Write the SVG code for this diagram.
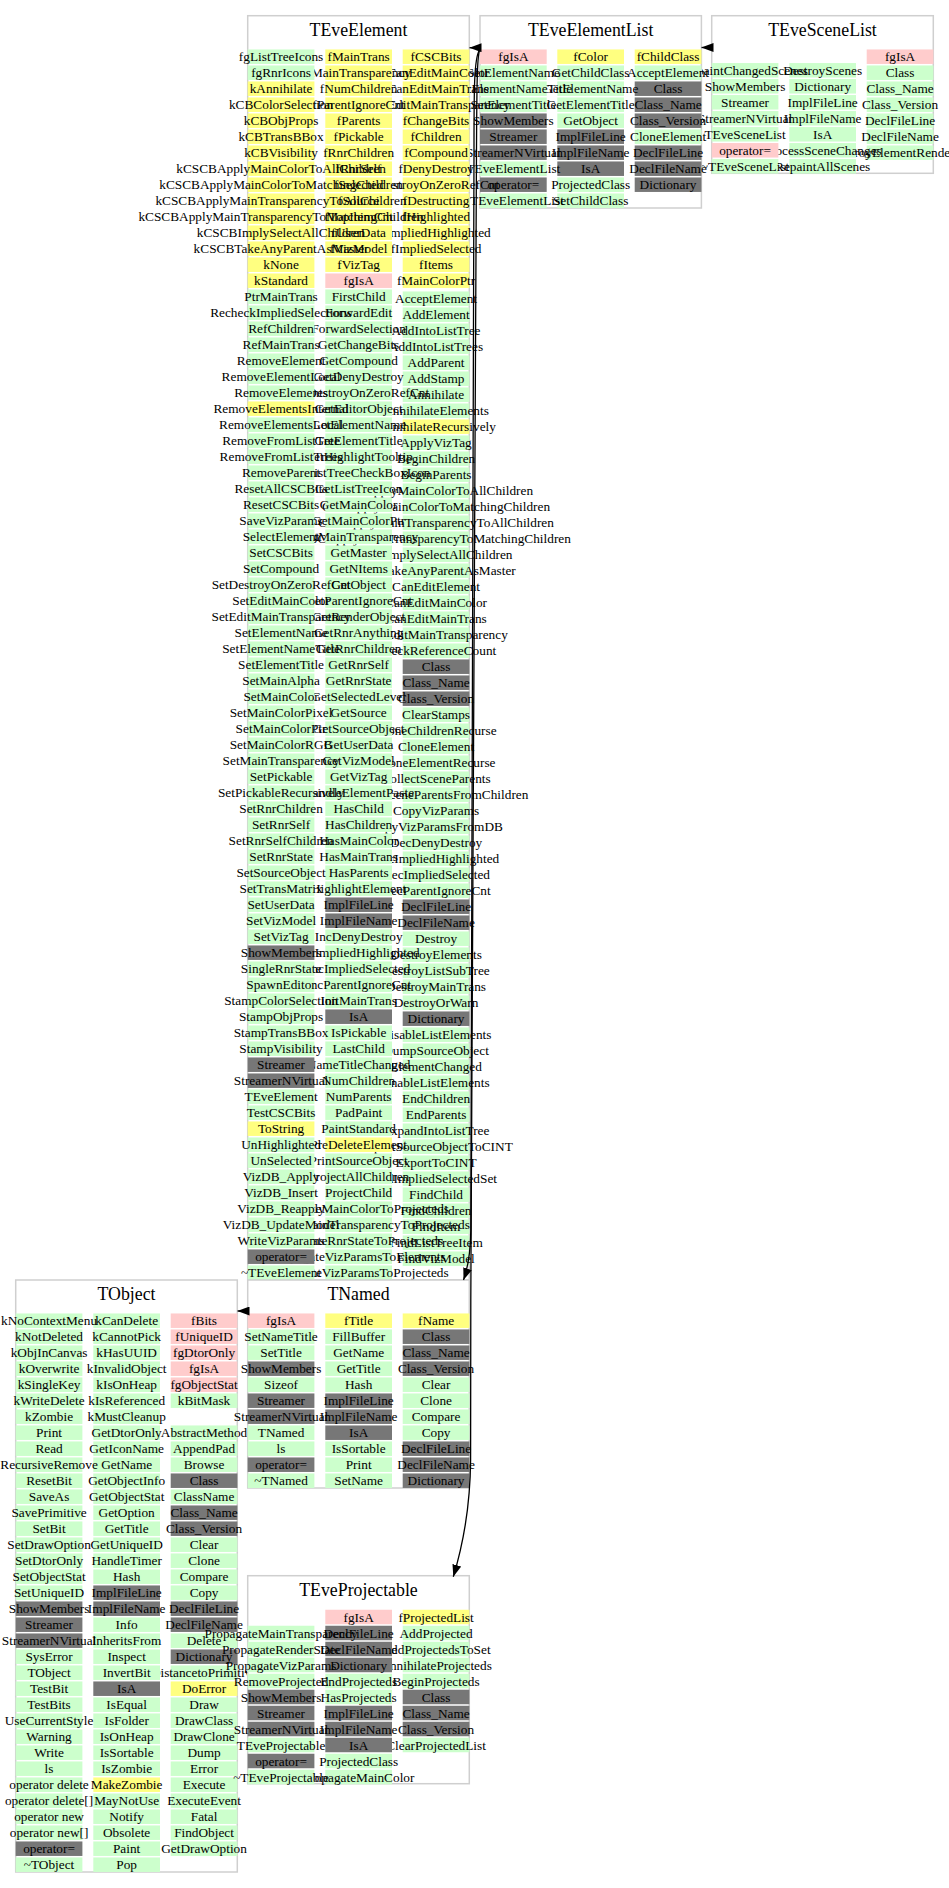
<svg xmlns="http://www.w3.org/2000/svg" width="949" height="1888" viewBox="0 0 949 1888">
<style>
text{font-family:"Liberation Serif","Times New Roman",serif;font-size:13.3px;text-anchor:middle;fill:#000}
.h{font-size:17.8px}
.bx{fill:#fff;stroke:#cfcfcf;stroke-width:1.5}
.g{fill:#ccffcc}.y{fill:#ffff80}.p{fill:#ffcccc}.d{fill:#777777}
</style>
<defs>
<marker id="ah" markerWidth="12" markerHeight="9" refX="12" refY="4.5" orient="auto" markerUnits="userSpaceOnUse"><path d="M0,0L12,4.5L0,9z" fill="#000" stroke="none"/></marker>
</defs>
<rect width="949" height="1888" fill="#fff"/>

<g id="TEveSceneList">
<rect class="bx" x="711.7" y="15.7" width="221.6" height="157.6"/>
<text class="h" x="822.5" y="36">TEveSceneList</text>
<g transform="translate(866.7,49.45)">
<rect y="0" width="66.7" height="14.5" class="p"/><rect y="16" width="66.7" height="14.5" class="g"/><rect y="32" width="66.7" height="14.5" class="g"/><rect y="48" width="66.7" height="14.5" class="g"/><rect y="64" width="66.7" height="14.5" class="g"/><rect y="80" width="66.7" height="14.5" class="g"/><rect y="96" width="66.7" height="14.5" class="g"/>
</g>
<g transform="translate(900.05,61.3)">
<text y="0">fgIsA</text><text y="16">Class</text><text y="32">Class_Name</text><text y="48">Class_Version</text><text y="64">DeclFileLine</text><text y="80">DeclFileName</text><text y="96">DestroyElementRenderers</text>
</g>
<g transform="translate(789.3,63.05)">
<rect y="0" width="66.7" height="14.5" class="g"/><rect y="16" width="66.7" height="14.5" class="g"/><rect y="32" width="66.7" height="14.5" class="g"/><rect y="48" width="66.7" height="14.5" class="g"/><rect y="64" width="66.7" height="14.5" class="g"/><rect y="80" width="66.7" height="14.5" class="g"/><rect y="96" width="66.7" height="14.5" class="g"/>
</g>
<g transform="translate(822.65,74.9)">
<text y="0">DestroyScenes</text><text y="16">Dictionary</text><text y="32">ImplFileLine</text><text y="48">ImplFileName</text><text y="64">IsA</text><text y="80">ProcessSceneChanges</text><text y="96">RepaintAllScenes</text>
</g>
<g transform="translate(711.7,63.05)">
<rect y="0" width="66.7" height="14.5" class="g"/><rect y="16" width="66.7" height="14.5" class="g"/><rect y="32" width="66.7" height="14.5" class="g"/><rect y="48" width="66.7" height="14.5" class="g"/><rect y="64" width="66.7" height="14.5" class="g"/><rect y="80" width="66.7" height="14.5" class="p"/><rect y="96" width="66.7" height="14.5" class="g"/>
</g>
<g transform="translate(745.05,74.9)">
<text y="0">RepaintChangedScenes</text><text y="16">ShowMembers</text><text y="32">Streamer</text><text y="48">StreamerNVirtual</text><text y="64">TEveSceneList</text><text y="80">operator=</text><text y="96">~TEveSceneList</text>
</g>
</g>

<g id="TEveElementList">
<rect class="bx" x="480" y="15.7" width="221.4" height="192.3"/>
<text class="h" x="590.7" y="36">TEveElementList</text>
<g transform="translate(634.7,49.45)">
<rect y="0" width="66.7" height="14.5" class="y"/><rect y="16" width="66.7" height="14.5" class="g"/><rect y="32" width="66.7" height="14.5" class="d"/><rect y="48" width="66.7" height="14.5" class="d"/><rect y="64" width="66.7" height="14.5" class="d"/><rect y="80" width="66.7" height="14.5" class="g"/><rect y="96" width="66.7" height="14.5" class="d"/><rect y="112" width="66.7" height="14.5" class="d"/><rect y="128" width="66.7" height="14.5" class="d"/>
</g>
<g transform="translate(668.05,61.3)">
<text y="0">fChildClass</text><text y="16">AcceptElement</text><text y="32">Class</text><text y="48">Class_Name</text><text y="64">Class_Version</text><text y="80">CloneElement</text><text y="96">DeclFileLine</text><text y="112">DeclFileName</text><text y="128">Dictionary</text>
</g>
<g transform="translate(557.3,49.45)">
<rect y="0" width="66.7" height="14.5" class="y"/><rect y="16" width="66.7" height="14.5" class="g"/><rect y="32" width="66.7" height="14.5" class="g"/><rect y="48" width="66.7" height="14.5" class="g"/><rect y="64" width="66.7" height="14.5" class="g"/><rect y="80" width="66.7" height="14.5" class="d"/><rect y="96" width="66.7" height="14.5" class="d"/><rect y="112" width="66.7" height="14.5" class="d"/><rect y="128" width="66.7" height="14.5" class="g"/><rect y="144" width="66.7" height="14.5" class="g"/>
</g>
<g transform="translate(590.65,61.3)">
<text y="0">fColor</text><text y="16">GetChildClass</text><text y="32">GetElementName</text><text y="48">GetElementTitle</text><text y="64">GetObject</text><text y="80">ImplFileLine</text><text y="96">ImplFileName</text><text y="112">IsA</text><text y="128">ProjectedClass</text><text y="144">SetChildClass</text>
</g>
<g transform="translate(480,49.45)">
<rect y="0" width="66.7" height="14.5" class="p"/><rect y="16" width="66.7" height="14.5" class="g"/><rect y="32" width="66.7" height="14.5" class="g"/><rect y="48" width="66.7" height="14.5" class="g"/><rect y="64" width="66.7" height="14.5" class="d"/><rect y="80" width="66.7" height="14.5" class="d"/><rect y="96" width="66.7" height="14.5" class="d"/><rect y="112" width="66.7" height="14.5" class="g"/><rect y="128" width="66.7" height="14.5" class="d"/><rect y="144" width="66.7" height="14.5" class="g"/>
</g>
<g transform="translate(513.35,61.3)">
<text y="0">fgIsA</text><text y="16">SetElementName</text><text y="32">SetElementNameTitle</text><text y="48">SetElementTitle</text><text y="64">ShowMembers</text><text y="80">Streamer</text><text y="96">StreamerNVirtual</text><text y="112">TEveElementList</text><text y="128">operator=</text><text y="144">~TEveElementList</text>
</g>
</g>

<g id="TEveElement">
<rect class="bx" x="247.7" y="15.7" width="221.6" height="1264.3"/>
<text class="h" x="358.5" y="36">TEveElement</text>
<g transform="translate(402.7,49.45)">
<rect y="0" width="66.7" height="14.5" class="y"/><rect y="16" width="66.7" height="14.5" class="y"/><rect y="32" width="66.7" height="14.5" class="y"/><rect y="48" width="66.7" height="14.5" class="y"/><rect y="64" width="66.7" height="14.5" class="y"/><rect y="80" width="66.7" height="14.5" class="y"/><rect y="96" width="66.7" height="14.5" class="y"/><rect y="112" width="66.7" height="14.5" class="y"/><rect y="128" width="66.7" height="14.5" class="y"/><rect y="144" width="66.7" height="14.5" class="y"/><rect y="160" width="66.7" height="14.5" class="y"/><rect y="176" width="66.7" height="14.5" class="y"/><rect y="192" width="66.7" height="14.5" class="y"/><rect y="208" width="66.7" height="14.5" class="y"/><rect y="224" width="66.7" height="14.5" class="y"/>
</g>
<g transform="translate(436.05,61.3)">
<text y="0">fCSCBits</text><text y="16">fCanEditMainColor</text><text y="32">fCanEditMainTrans</text><text y="48">fCanEditMainTransparency</text><text y="64">fChangeBits</text><text y="80">fChildren</text><text y="96">fCompound</text><text y="112">fDenyDestroy</text><text y="128">fDestroyOnZeroRefCnt</text><text y="144">fDestructing</text><text y="160">fHighlighted</text><text y="176">fImpliedHighlighted</text><text y="192">fImpliedSelected</text><text y="208">fItems</text><text y="224">fMainColorPtr</text>
</g>
<g transform="translate(402.7,51.45)">
<rect y="240" width="66.7" height="14.5" class="g"/><rect y="256" width="66.7" height="14.5" class="g"/><rect y="272" width="66.7" height="14.5" class="g"/><rect y="288" width="66.7" height="14.5" class="g"/><rect y="304" width="66.7" height="14.5" class="g"/><rect y="320" width="66.7" height="14.5" class="g"/><rect y="336" width="66.7" height="14.5" class="g"/><rect y="352" width="66.7" height="14.5" class="g"/><rect y="368" width="66.7" height="14.5" class="y"/><rect y="384" width="66.7" height="14.5" class="g"/><rect y="400" width="66.7" height="14.5" class="g"/><rect y="416" width="66.7" height="14.5" class="g"/><rect y="432" width="66.7" height="14.5" class="g"/><rect y="448" width="66.7" height="14.5" class="g"/><rect y="464" width="66.7" height="14.5" class="g"/><rect y="480" width="66.7" height="14.5" class="g"/><rect y="496" width="66.7" height="14.5" class="g"/><rect y="512" width="66.7" height="14.5" class="g"/><rect y="528" width="66.7" height="14.5" class="g"/><rect y="544" width="66.7" height="14.5" class="g"/><rect y="560" width="66.7" height="14.5" class="g"/><rect y="576" width="66.7" height="14.5" class="g"/><rect y="592" width="66.7" height="14.5" class="g"/><rect y="608" width="66.7" height="14.5" class="d"/><rect y="624" width="66.7" height="14.5" class="d"/><rect y="640" width="66.7" height="14.5" class="d"/><rect y="656" width="66.7" height="14.5" class="g"/><rect y="672" width="66.7" height="14.5" class="g"/><rect y="688" width="66.7" height="14.5" class="g"/><rect y="704" width="66.7" height="14.5" class="g"/><rect y="720" width="66.7" height="14.5" class="g"/><rect y="736" width="66.7" height="14.5" class="g"/><rect y="752" width="66.7" height="14.5" class="g"/><rect y="768" width="66.7" height="14.5" class="g"/><rect y="784" width="66.7" height="14.5" class="g"/><rect y="800" width="66.7" height="14.5" class="g"/><rect y="816" width="66.7" height="14.5" class="g"/><rect y="832" width="66.7" height="14.5" class="g"/><rect y="848" width="66.7" height="14.5" class="d"/><rect y="864" width="66.7" height="14.5" class="d"/><rect y="880" width="66.7" height="14.5" class="g"/><rect y="896" width="66.7" height="14.5" class="g"/><rect y="912" width="66.7" height="14.5" class="g"/><rect y="928" width="66.7" height="14.5" class="g"/><rect y="944" width="66.7" height="14.5" class="g"/><rect y="960" width="66.7" height="14.5" class="d"/><rect y="976" width="66.7" height="14.5" class="g"/><rect y="992" width="66.7" height="14.5" class="g"/><rect y="1008" width="66.7" height="14.5" class="g"/><rect y="1024" width="66.7" height="14.5" class="g"/><rect y="1040" width="66.7" height="14.5" class="g"/><rect y="1056" width="66.7" height="14.5" class="g"/><rect y="1072" width="66.7" height="14.5" class="g"/><rect y="1088" width="66.7" height="14.5" class="g"/><rect y="1104" width="66.7" height="14.5" class="g"/><rect y="1120" width="66.7" height="14.5" class="g"/><rect y="1136" width="66.7" height="14.5" class="g"/><rect y="1152" width="66.7" height="14.5" class="g"/><rect y="1168" width="66.7" height="14.5" class="g"/><rect y="1184" width="66.7" height="14.5" class="g"/><rect y="1200" width="66.7" height="14.5" class="g"/>
</g>
<g transform="translate(436.05,63.3)">
<text y="240">AcceptElement</text><text y="256">AddElement</text><text y="272">AddIntoListTree</text><text y="288">AddIntoListTrees</text><text y="304">AddParent</text><text y="320">AddStamp</text><text y="336">Annihilate</text><text y="352">AnnihilateElements</text><text y="368">AnnihilateRecursively</text><text y="384">ApplyVizTag</text><text y="400">BeginChildren</text><text y="416">BeginParents</text><text y="432">CSCApplyMainColorToAllChildren</text><text y="448">CSCApplyMainColorToMatchingChildren</text><text y="464">CSCApplyMainTransparencyToAllChildren</text><text y="480">CSCApplyMainTransparencyToMatchingChildren</text><text y="496">CSCImplySelectAllChildren</text><text y="512">CSCTakeAnyParentAsMaster</text><text y="528">CanEditElement</text><text y="544">CanEditMainColor</text><text y="560">CanEditMainTrans</text><text y="576">CanEditMainTransparency</text><text y="592">CheckReferenceCount</text><text y="608">Class</text><text y="624">Class_Name</text><text y="640">Class_Version</text><text y="656">ClearStamps</text><text y="672">CloneChildrenRecurse</text><text y="688">CloneElement</text><text y="704">CloneElementRecurse</text><text y="720">CollectSceneParents</text><text y="736">CollectSceneParentsFromChildren</text><text y="752">CopyVizParams</text><text y="768">CopyVizParamsFromDB</text><text y="784">DecDenyDestroy</text><text y="800">DecImpliedHighlighted</text><text y="816">DecImpliedSelected</text><text y="832">DecParentIgnoreCnt</text><text y="848">DeclFileLine</text><text y="864">DeclFileName</text><text y="880">Destroy</text><text y="896">DestroyElements</text><text y="912">DestroyListSubTree</text><text y="928">DestroyMainTrans</text><text y="944">DestroyOrWarn</text><text y="960">Dictionary</text><text y="976">DisableListElements</text><text y="992">DumpSourceObject</text><text y="1008">ElementChanged</text><text y="1024">EnableListElements</text><text y="1040">EndChildren</text><text y="1056">EndParents</text><text y="1072">ExpandIntoListTree</text><text y="1088">ExportSourceObjectToCINT</text><text y="1104">ExportToCINT</text><text y="1120">FillImpliedSelectedSet</text><text y="1136">FindChild</text><text y="1152">FindChildren</text><text y="1168">FindItem</text><text y="1184">FindListTreeItem</text><text y="1200">FindVizModel</text>
</g>
<g transform="translate(325.3,49.45)">
<rect y="0" width="66.7" height="14.5" class="y"/><rect y="16" width="66.7" height="14.5" class="y"/><rect y="32" width="66.7" height="14.5" class="y"/><rect y="48" width="66.7" height="14.5" class="y"/><rect y="64" width="66.7" height="14.5" class="y"/><rect y="80" width="66.7" height="14.5" class="y"/><rect y="96" width="66.7" height="14.5" class="y"/><rect y="112" width="66.7" height="14.5" class="y"/><rect y="128" width="66.7" height="14.5" class="y"/><rect y="144" width="66.7" height="14.5" class="y"/><rect y="160" width="66.7" height="14.5" class="y"/><rect y="176" width="66.7" height="14.5" class="y"/><rect y="192" width="66.7" height="14.5" class="y"/><rect y="208" width="66.7" height="14.5" class="y"/><rect y="224" width="66.7" height="14.5" class="p"/><rect y="240" width="66.7" height="14.5" class="g"/><rect y="256" width="66.7" height="14.5" class="g"/><rect y="272" width="66.7" height="14.5" class="g"/><rect y="288" width="66.7" height="14.5" class="g"/><rect y="304" width="66.7" height="14.5" class="g"/><rect y="320" width="66.7" height="14.5" class="g"/><rect y="336" width="66.7" height="14.5" class="g"/><rect y="352" width="66.7" height="14.5" class="g"/><rect y="368" width="66.7" height="14.5" class="g"/><rect y="384" width="66.7" height="14.5" class="g"/><rect y="400" width="66.7" height="14.5" class="g"/><rect y="416" width="66.7" height="14.5" class="g"/><rect y="432" width="66.7" height="14.5" class="g"/><rect y="448" width="66.7" height="14.5" class="g"/><rect y="464" width="66.7" height="14.5" class="g"/><rect y="480" width="66.7" height="14.5" class="g"/><rect y="496" width="66.7" height="14.5" class="g"/><rect y="512" width="66.7" height="14.5" class="g"/><rect y="528" width="66.7" height="14.5" class="g"/><rect y="544" width="66.7" height="14.5" class="g"/><rect y="560" width="66.7" height="14.5" class="g"/><rect y="576" width="66.7" height="14.5" class="g"/><rect y="592" width="66.7" height="14.5" class="g"/><rect y="608" width="66.7" height="14.5" class="g"/><rect y="624" width="66.7" height="14.5" class="g"/><rect y="640" width="66.7" height="14.5" class="g"/><rect y="656" width="66.7" height="14.5" class="g"/><rect y="672" width="66.7" height="14.5" class="g"/><rect y="688" width="66.7" height="14.5" class="g"/><rect y="704" width="66.7" height="14.5" class="g"/><rect y="720" width="66.7" height="14.5" class="g"/><rect y="736" width="66.7" height="14.5" class="g"/><rect y="752" width="66.7" height="14.5" class="g"/><rect y="768" width="66.7" height="14.5" class="g"/><rect y="784" width="66.7" height="14.5" class="g"/><rect y="800" width="66.7" height="14.5" class="g"/><rect y="816" width="66.7" height="14.5" class="g"/><rect y="832" width="66.7" height="14.5" class="g"/><rect y="848" width="66.7" height="14.5" class="d"/><rect y="864" width="66.7" height="14.5" class="d"/><rect y="880" width="66.7" height="14.5" class="g"/><rect y="896" width="66.7" height="14.5" class="g"/><rect y="912" width="66.7" height="14.5" class="g"/><rect y="928" width="66.7" height="14.5" class="g"/><rect y="944" width="66.7" height="14.5" class="g"/><rect y="960" width="66.7" height="14.5" class="d"/><rect y="976" width="66.7" height="14.5" class="g"/><rect y="992" width="66.7" height="14.5" class="g"/><rect y="1008" width="66.7" height="14.5" class="g"/><rect y="1024" width="66.7" height="14.5" class="g"/><rect y="1040" width="66.7" height="14.5" class="g"/><rect y="1056" width="66.7" height="14.5" class="g"/><rect y="1072" width="66.7" height="14.5" class="g"/><rect y="1088" width="66.7" height="14.5" class="y"/><rect y="1104" width="66.7" height="14.5" class="g"/><rect y="1120" width="66.7" height="14.5" class="g"/><rect y="1136" width="66.7" height="14.5" class="g"/><rect y="1152" width="66.7" height="14.5" class="g"/><rect y="1168" width="66.7" height="14.5" class="g"/><rect y="1184" width="66.7" height="14.5" class="g"/><rect y="1200" width="66.7" height="14.5" class="g"/><rect y="1216" width="66.7" height="14.5" class="g"/>
</g>
<g transform="translate(358.65,61.3)">
<text y="0">fMainTrans</text><text y="16">fMainTransparency</text><text y="32">fNumChildren</text><text y="48">fParentIgnoreCnt</text><text y="64">fParents</text><text y="80">fPickable</text><text y="96">fRnrChildren</text><text y="112">fRnrSelf</text><text y="128">fSelected</text><text y="144">fSource</text><text y="160">fTopItemCnt</text><text y="176">fUserData</text><text y="192">fVizModel</text><text y="208">fVizTag</text><text y="224">fgIsA</text><text y="240">FirstChild</text><text y="256">ForwardEdit</text><text y="272">ForwardSelection</text><text y="288">GetChangeBits</text><text y="304">GetCompound</text><text y="320">GetDenyDestroy</text><text y="336">GetDestroyOnZeroRefCnt</text><text y="352">GetEditorObject</text><text y="368">GetElementName</text><text y="384">GetElementTitle</text><text y="400">GetHighlightTooltip</text><text y="416">GetListTreeCheckBoxIcon</text><text y="432">GetListTreeIcon</text><text y="448">GetMainColor</text><text y="464">GetMainColorPtr</text><text y="480">GetMainTransparency</text><text y="496">GetMaster</text><text y="512">GetNItems</text><text y="528">GetObject</text><text y="544">GetParentIgnoreCnt</text><text y="560">GetRenderObject</text><text y="576">GetRnrAnything</text><text y="592">GetRnrChildren</text><text y="608">GetRnrSelf</text><text y="624">GetRnrState</text><text y="640">GetSelectedLevel</text><text y="656">GetSource</text><text y="672">GetSourceObject</text><text y="688">GetUserData</text><text y="704">GetVizModel</text><text y="720">GetVizTag</text><text y="736">HandleElementPaste</text><text y="752">HasChild</text><text y="768">HasChildren</text><text y="784">HasMainColor</text><text y="800">HasMainTrans</text><text y="816">HasParents</text><text y="832">HighlightElement</text><text y="848">ImplFileLine</text><text y="864">ImplFileName</text><text y="880">IncDenyDestroy</text><text y="896">IncImpliedHighlighted</text><text y="912">IncImpliedSelected</text><text y="928">IncParentIgnoreCnt</text><text y="944">InitMainTrans</text><text y="960">IsA</text><text y="976">IsPickable</text><text y="992">LastChild</text><text y="1008">NameTitleChanged</text><text y="1024">NumChildren</text><text y="1040">NumParents</text><text y="1056">PadPaint</text><text y="1072">PaintStandard</text><text y="1088">PreDeleteElement</text><text y="1104">PrintSourceObject</text><text y="1120">ProjectAllChildren</text><text y="1136">ProjectChild</text><text y="1152">PropagateMainColorToProjecteds</text><text y="1168">PropagateMainTransparencyToProjecteds</text><text y="1184">PropagateRnrStateToProjecteds</text><text y="1200">PropagateVizParamsToElements</text><text y="1216">PropagateVizParamsToProjecteds</text>
</g>
<g transform="translate(247.7,49.45)">
<rect y="0" width="66.7" height="14.5" class="g"/><rect y="16" width="66.7" height="14.5" class="g"/><rect y="32" width="66.7" height="14.5" class="y"/><rect y="48" width="66.7" height="14.5" class="y"/><rect y="64" width="66.7" height="14.5" class="y"/><rect y="80" width="66.7" height="14.5" class="y"/><rect y="96" width="66.7" height="14.5" class="y"/><rect y="112" width="66.7" height="14.5" class="y"/><rect y="128" width="66.7" height="14.5" class="y"/><rect y="144" width="66.7" height="14.5" class="y"/><rect y="160" width="66.7" height="14.5" class="y"/><rect y="176" width="66.7" height="14.5" class="y"/><rect y="192" width="66.7" height="14.5" class="y"/><rect y="208" width="66.7" height="14.5" class="y"/><rect y="224" width="66.7" height="14.5" class="y"/><rect y="240" width="66.7" height="14.5" class="g"/><rect y="256" width="66.7" height="14.5" class="g"/><rect y="272" width="66.7" height="14.5" class="g"/><rect y="288" width="66.7" height="14.5" class="g"/><rect y="304" width="66.7" height="14.5" class="g"/><rect y="320" width="66.7" height="14.5" class="g"/><rect y="336" width="66.7" height="14.5" class="g"/><rect y="352" width="66.7" height="14.5" class="y"/><rect y="368" width="66.7" height="14.5" class="g"/><rect y="384" width="66.7" height="14.5" class="g"/><rect y="400" width="66.7" height="14.5" class="g"/><rect y="416" width="66.7" height="14.5" class="g"/><rect y="432" width="66.7" height="14.5" class="g"/><rect y="448" width="66.7" height="14.5" class="g"/><rect y="464" width="66.7" height="14.5" class="g"/><rect y="480" width="66.7" height="14.5" class="g"/><rect y="496" width="66.7" height="14.5" class="g"/><rect y="512" width="66.7" height="14.5" class="g"/><rect y="528" width="66.7" height="14.5" class="g"/><rect y="544" width="66.7" height="14.5" class="g"/><rect y="560" width="66.7" height="14.5" class="g"/><rect y="576" width="66.7" height="14.5" class="g"/><rect y="592" width="66.7" height="14.5" class="g"/><rect y="608" width="66.7" height="14.5" class="g"/><rect y="624" width="66.7" height="14.5" class="g"/><rect y="640" width="66.7" height="14.5" class="g"/><rect y="656" width="66.7" height="14.5" class="g"/><rect y="672" width="66.7" height="14.5" class="g"/><rect y="688" width="66.7" height="14.5" class="g"/><rect y="704" width="66.7" height="14.5" class="g"/><rect y="720" width="66.7" height="14.5" class="g"/><rect y="736" width="66.7" height="14.5" class="g"/><rect y="752" width="66.7" height="14.5" class="g"/><rect y="768" width="66.7" height="14.5" class="g"/><rect y="784" width="66.7" height="14.5" class="g"/><rect y="800" width="66.7" height="14.5" class="g"/><rect y="816" width="66.7" height="14.5" class="g"/><rect y="832" width="66.7" height="14.5" class="g"/><rect y="848" width="66.7" height="14.5" class="g"/><rect y="864" width="66.7" height="14.5" class="g"/><rect y="880" width="66.7" height="14.5" class="g"/><rect y="896" width="66.7" height="14.5" class="d"/><rect y="912" width="66.7" height="14.5" class="g"/><rect y="928" width="66.7" height="14.5" class="g"/><rect y="944" width="66.7" height="14.5" class="g"/><rect y="960" width="66.7" height="14.5" class="g"/><rect y="976" width="66.7" height="14.5" class="g"/><rect y="992" width="66.7" height="14.5" class="g"/><rect y="1008" width="66.7" height="14.5" class="d"/><rect y="1024" width="66.7" height="14.5" class="d"/><rect y="1040" width="66.7" height="14.5" class="g"/><rect y="1056" width="66.7" height="14.5" class="g"/><rect y="1072" width="66.7" height="14.5" class="y"/><rect y="1088" width="66.7" height="14.5" class="g"/><rect y="1104" width="66.7" height="14.5" class="g"/><rect y="1120" width="66.7" height="14.5" class="g"/><rect y="1136" width="66.7" height="14.5" class="g"/><rect y="1152" width="66.7" height="14.5" class="g"/><rect y="1168" width="66.7" height="14.5" class="g"/><rect y="1184" width="66.7" height="14.5" class="g"/><rect y="1200" width="66.7" height="14.5" class="d"/><rect y="1216" width="66.7" height="14.5" class="g"/>
</g>
<g transform="translate(281.05,61.3)">
<text y="0">fgListTreeIcons</text><text y="16">fgRnrIcons</text><text y="32">kAnnihilate</text><text y="48">kCBColorSelection</text><text y="64">kCBObjProps</text><text y="80">kCBTransBBox</text><text y="96">kCBVisibility</text><text y="112">kCSCBApplyMainColorToAllChildren</text><text y="128">kCSCBApplyMainColorToMatchingChildren</text><text y="144">kCSCBApplyMainTransparencyToAllChildren</text><text y="160">kCSCBApplyMainTransparencyToMatchingChildren</text><text y="176">kCSCBImplySelectAllChildren</text><text y="192">kCSCBTakeAnyParentAsMaster</text><text y="208">kNone</text><text y="224">kStandard</text><text y="240">PtrMainTrans</text><text y="256">RecheckImpliedSelections</text><text y="272">RefChildren</text><text y="288">RefMainTrans</text><text y="304">RemoveElement</text><text y="320">RemoveElementLocal</text><text y="336">RemoveElements</text><text y="352">RemoveElementsInternal</text><text y="368">RemoveElementsLocal</text><text y="384">RemoveFromListTree</text><text y="400">RemoveFromListTrees</text><text y="416">RemoveParent</text><text y="432">ResetAllCSCBits</text><text y="448">ResetCSCBits</text><text y="464">SaveVizParams</text><text y="480">SelectElement</text><text y="496">SetCSCBits</text><text y="512">SetCompound</text><text y="528">SetDestroyOnZeroRefCnt</text><text y="544">SetEditMainColor</text><text y="560">SetEditMainTransparency</text><text y="576">SetElementName</text><text y="592">SetElementNameTitle</text><text y="608">SetElementTitle</text><text y="624">SetMainAlpha</text><text y="640">SetMainColor</text><text y="656">SetMainColorPixel</text><text y="672">SetMainColorPtr</text><text y="688">SetMainColorRGB</text><text y="704">SetMainTransparency</text><text y="720">SetPickable</text><text y="736">SetPickableRecursively</text><text y="752">SetRnrChildren</text><text y="768">SetRnrSelf</text><text y="784">SetRnrSelfChildren</text><text y="800">SetRnrState</text><text y="816">SetSourceObject</text><text y="832">SetTransMatrix</text><text y="848">SetUserData</text><text y="864">SetVizModel</text><text y="880">SetVizTag</text><text y="896">ShowMembers</text><text y="912">SingleRnrState</text><text y="928">SpawnEditor</text><text y="944">StampColorSelection</text><text y="960">StampObjProps</text><text y="976">StampTransBBox</text><text y="992">StampVisibility</text><text y="1008">Streamer</text><text y="1024">StreamerNVirtual</text><text y="1040">TEveElement</text><text y="1056">TestCSCBits</text><text y="1072">ToString</text><text y="1088">UnHighlighted</text><text y="1104">UnSelected</text><text y="1120">VizDB_Apply</text><text y="1136">VizDB_Insert</text><text y="1152">VizDB_Reapply</text><text y="1168">VizDB_UpdateModel</text><text y="1184">WriteVizParams</text><text y="1200">operator=</text><text y="1216">~TEveElement</text>
</g>
</g>

<g id="TObject">
<rect class="bx" x="15.7" y="1280" width="221.6" height="592"/>
<text class="h" x="126.5" y="1300">TObject</text>
<g transform="translate(170.7,1313.45)">
<rect y="0" width="66.7" height="14.5" class="p"/><rect y="16" width="66.7" height="14.5" class="p"/><rect y="32" width="66.7" height="14.5" class="p"/><rect y="48" width="66.7" height="14.5" class="p"/><rect y="64" width="66.7" height="14.5" class="p"/><rect y="80" width="66.7" height="14.5" class="g"/><rect y="112" width="66.7" height="14.5" class="g"/><rect y="128" width="66.7" height="14.5" class="g"/><rect y="144" width="66.7" height="14.5" class="g"/><rect y="160" width="66.7" height="14.5" class="d"/><rect y="176" width="66.7" height="14.5" class="g"/><rect y="192" width="66.7" height="14.5" class="d"/><rect y="208" width="66.7" height="14.5" class="d"/><rect y="224" width="66.7" height="14.5" class="g"/><rect y="240" width="66.7" height="14.5" class="g"/><rect y="256" width="66.7" height="14.5" class="g"/><rect y="272" width="66.7" height="14.5" class="g"/><rect y="288" width="66.7" height="14.5" class="d"/><rect y="304" width="66.7" height="14.5" class="d"/><rect y="320" width="66.7" height="14.5" class="g"/><rect y="336" width="66.7" height="14.5" class="d"/><rect y="352" width="66.7" height="14.5" class="g"/><rect y="368" width="66.7" height="14.5" class="y"/><rect y="384" width="66.7" height="14.5" class="g"/><rect y="400" width="66.7" height="14.5" class="g"/><rect y="416" width="66.7" height="14.5" class="g"/><rect y="432" width="66.7" height="14.5" class="g"/><rect y="448" width="66.7" height="14.5" class="g"/><rect y="464" width="66.7" height="14.5" class="g"/><rect y="480" width="66.7" height="14.5" class="g"/><rect y="496" width="66.7" height="14.5" class="g"/><rect y="512" width="66.7" height="14.5" class="g"/><rect y="528" width="66.7" height="14.5" class="g"/>
</g>
<g transform="translate(204.05,1325.3)">
<text y="0">fBits</text><text y="16">fUniqueID</text><text y="32">fgDtorOnly</text><text y="48">fgIsA</text><text y="64">fgObjectStat</text><text y="80">kBitMask</text><text y="112">AbstractMethod</text><text y="128">AppendPad</text><text y="144">Browse</text><text y="160">Class</text><text y="176">ClassName</text><text y="192">Class_Name</text><text y="208">Class_Version</text><text y="224">Clear</text><text y="240">Clone</text><text y="256">Compare</text><text y="272">Copy</text><text y="288">DeclFileLine</text><text y="304">DeclFileName</text><text y="320">Delete</text><text y="336">Dictionary</text><text y="352">DistancetoPrimitive</text><text y="368">DoError</text><text y="384">Draw</text><text y="400">DrawClass</text><text y="416">DrawClone</text><text y="432">Dump</text><text y="448">Error</text><text y="464">Execute</text><text y="480">ExecuteEvent</text><text y="496">Fatal</text><text y="512">FindObject</text><text y="528">GetDrawOption</text>
</g>
<g transform="translate(93.3,1313.45)">
<rect y="0" width="66.7" height="14.5" class="g"/><rect y="16" width="66.7" height="14.5" class="g"/><rect y="32" width="66.7" height="14.5" class="g"/><rect y="48" width="66.7" height="14.5" class="g"/><rect y="64" width="66.7" height="14.5" class="g"/><rect y="80" width="66.7" height="14.5" class="g"/><rect y="96" width="66.7" height="14.5" class="g"/><rect y="112" width="66.7" height="14.5" class="g"/><rect y="128" width="66.7" height="14.5" class="g"/><rect y="144" width="66.7" height="14.5" class="g"/><rect y="160" width="66.7" height="14.5" class="g"/><rect y="176" width="66.7" height="14.5" class="g"/><rect y="192" width="66.7" height="14.5" class="g"/><rect y="208" width="66.7" height="14.5" class="g"/><rect y="224" width="66.7" height="14.5" class="g"/><rect y="240" width="66.7" height="14.5" class="g"/><rect y="256" width="66.7" height="14.5" class="g"/><rect y="272" width="66.7" height="14.5" class="d"/><rect y="288" width="66.7" height="14.5" class="d"/><rect y="304" width="66.7" height="14.5" class="g"/><rect y="320" width="66.7" height="14.5" class="g"/><rect y="336" width="66.7" height="14.5" class="g"/><rect y="352" width="66.7" height="14.5" class="g"/><rect y="368" width="66.7" height="14.5" class="d"/><rect y="384" width="66.7" height="14.5" class="g"/><rect y="400" width="66.7" height="14.5" class="g"/><rect y="416" width="66.7" height="14.5" class="g"/><rect y="432" width="66.7" height="14.5" class="g"/><rect y="448" width="66.7" height="14.5" class="g"/><rect y="464" width="66.7" height="14.5" class="y"/><rect y="480" width="66.7" height="14.5" class="g"/><rect y="496" width="66.7" height="14.5" class="g"/><rect y="512" width="66.7" height="14.5" class="g"/><rect y="528" width="66.7" height="14.5" class="g"/><rect y="544" width="66.7" height="14.5" class="g"/>
</g>
<g transform="translate(126.65,1325.3)">
<text y="0">kCanDelete</text><text y="16">kCannotPick</text><text y="32">kHasUUID</text><text y="48">kInvalidObject</text><text y="64">kIsOnHeap</text><text y="80">kIsReferenced</text><text y="96">kMustCleanup</text><text y="112">GetDtorOnly</text><text y="128">GetIconName</text><text y="144">GetName</text><text y="160">GetObjectInfo</text><text y="176">GetObjectStat</text><text y="192">GetOption</text><text y="208">GetTitle</text><text y="224">GetUniqueID</text><text y="240">HandleTimer</text><text y="256">Hash</text><text y="272">ImplFileLine</text><text y="288">ImplFileName</text><text y="304">Info</text><text y="320">InheritsFrom</text><text y="336">Inspect</text><text y="352">InvertBit</text><text y="368">IsA</text><text y="384">IsEqual</text><text y="400">IsFolder</text><text y="416">IsOnHeap</text><text y="432">IsSortable</text><text y="448">IsZombie</text><text y="464">MakeZombie</text><text y="480">MayNotUse</text><text y="496">Notify</text><text y="512">Obsolete</text><text y="528">Paint</text><text y="544">Pop</text>
</g>
<g transform="translate(15.7,1313.45)">
<rect y="0" width="66.7" height="14.5" class="g"/><rect y="16" width="66.7" height="14.5" class="g"/><rect y="32" width="66.7" height="14.5" class="g"/><rect y="48" width="66.7" height="14.5" class="g"/><rect y="64" width="66.7" height="14.5" class="g"/><rect y="80" width="66.7" height="14.5" class="g"/><rect y="96" width="66.7" height="14.5" class="g"/><rect y="112" width="66.7" height="14.5" class="g"/><rect y="128" width="66.7" height="14.5" class="g"/><rect y="144" width="66.7" height="14.5" class="g"/><rect y="160" width="66.7" height="14.5" class="g"/><rect y="176" width="66.7" height="14.5" class="g"/><rect y="192" width="66.7" height="14.5" class="g"/><rect y="208" width="66.7" height="14.5" class="g"/><rect y="224" width="66.7" height="14.5" class="g"/><rect y="240" width="66.7" height="14.5" class="g"/><rect y="256" width="66.7" height="14.5" class="g"/><rect y="272" width="66.7" height="14.5" class="g"/><rect y="288" width="66.7" height="14.5" class="d"/><rect y="304" width="66.7" height="14.5" class="d"/><rect y="320" width="66.7" height="14.5" class="d"/><rect y="336" width="66.7" height="14.5" class="g"/><rect y="352" width="66.7" height="14.5" class="g"/><rect y="368" width="66.7" height="14.5" class="g"/><rect y="384" width="66.7" height="14.5" class="g"/><rect y="400" width="66.7" height="14.5" class="g"/><rect y="416" width="66.7" height="14.5" class="g"/><rect y="432" width="66.7" height="14.5" class="g"/><rect y="448" width="66.7" height="14.5" class="g"/><rect y="464" width="66.7" height="14.5" class="g"/><rect y="480" width="66.7" height="14.5" class="g"/><rect y="496" width="66.7" height="14.5" class="g"/><rect y="512" width="66.7" height="14.5" class="g"/><rect y="528" width="66.7" height="14.5" class="d"/><rect y="544" width="66.7" height="14.5" class="g"/>
</g>
<g transform="translate(49.05,1325.3)">
<text y="0">kNoContextMenu</text><text y="16">kNotDeleted</text><text y="32">kObjInCanvas</text><text y="48">kOverwrite</text><text y="64">kSingleKey</text><text y="80">kWriteDelete</text><text y="96">kZombie</text><text y="112">Print</text><text y="128">Read</text><text y="144">RecursiveRemove</text><text y="160">ResetBit</text><text y="176">SaveAs</text><text y="192">SavePrimitive</text><text y="208">SetBit</text><text y="224">SetDrawOption</text><text y="240">SetDtorOnly</text><text y="256">SetObjectStat</text><text y="272">SetUniqueID</text><text y="288">ShowMembers</text><text y="304">Streamer</text><text y="320">StreamerNVirtual</text><text y="336">SysError</text><text y="352">TObject</text><text y="368">TestBit</text><text y="384">TestBits</text><text y="400">UseCurrentStyle</text><text y="416">Warning</text><text y="432">Write</text><text y="448">ls</text><text y="464">operator delete</text><text y="480">operator delete[]</text><text y="496">operator new</text><text y="512">operator new[]</text><text y="528">operator=</text><text y="544">~TObject</text>
</g>
</g>

<g id="TNamed">
<rect class="bx" x="247.7" y="1280" width="221.6" height="208"/>
<text class="h" x="358.5" y="1300">TNamed</text>
<g transform="translate(402.7,1313.45)">
<rect y="0" width="66.7" height="14.5" class="y"/><rect y="16" width="66.7" height="14.5" class="d"/><rect y="32" width="66.7" height="14.5" class="d"/><rect y="48" width="66.7" height="14.5" class="d"/><rect y="64" width="66.7" height="14.5" class="g"/><rect y="80" width="66.7" height="14.5" class="g"/><rect y="96" width="66.7" height="14.5" class="g"/><rect y="112" width="66.7" height="14.5" class="g"/><rect y="128" width="66.7" height="14.5" class="d"/><rect y="144" width="66.7" height="14.5" class="d"/><rect y="160" width="66.7" height="14.5" class="d"/>
</g>
<g transform="translate(436.05,1325.3)">
<text y="0">fName</text><text y="16">Class</text><text y="32">Class_Name</text><text y="48">Class_Version</text><text y="64">Clear</text><text y="80">Clone</text><text y="96">Compare</text><text y="112">Copy</text><text y="128">DeclFileLine</text><text y="144">DeclFileName</text><text y="160">Dictionary</text>
</g>
<g transform="translate(325.3,1313.45)">
<rect y="0" width="66.7" height="14.5" class="y"/><rect y="16" width="66.7" height="14.5" class="g"/><rect y="32" width="66.7" height="14.5" class="g"/><rect y="48" width="66.7" height="14.5" class="g"/><rect y="64" width="66.7" height="14.5" class="g"/><rect y="80" width="66.7" height="14.5" class="d"/><rect y="96" width="66.7" height="14.5" class="d"/><rect y="112" width="66.7" height="14.5" class="d"/><rect y="128" width="66.7" height="14.5" class="g"/><rect y="144" width="66.7" height="14.5" class="g"/><rect y="160" width="66.7" height="14.5" class="g"/>
</g>
<g transform="translate(358.65,1325.3)">
<text y="0">fTitle</text><text y="16">FillBuffer</text><text y="32">GetName</text><text y="48">GetTitle</text><text y="64">Hash</text><text y="80">ImplFileLine</text><text y="96">ImplFileName</text><text y="112">IsA</text><text y="128">IsSortable</text><text y="144">Print</text><text y="160">SetName</text>
</g>
<g transform="translate(247.7,1313.45)">
<rect y="0" width="66.7" height="14.5" class="p"/><rect y="16" width="66.7" height="14.5" class="g"/><rect y="32" width="66.7" height="14.5" class="g"/><rect y="48" width="66.7" height="14.5" class="d"/><rect y="64" width="66.7" height="14.5" class="g"/><rect y="80" width="66.7" height="14.5" class="d"/><rect y="96" width="66.7" height="14.5" class="d"/><rect y="112" width="66.7" height="14.5" class="g"/><rect y="128" width="66.7" height="14.5" class="g"/><rect y="144" width="66.7" height="14.5" class="d"/><rect y="160" width="66.7" height="14.5" class="g"/>
</g>
<g transform="translate(281.05,1325.3)">
<text y="0">fgIsA</text><text y="16">SetNameTitle</text><text y="32">SetTitle</text><text y="48">ShowMembers</text><text y="64">Sizeof</text><text y="80">Streamer</text><text y="96">StreamerNVirtual</text><text y="112">TNamed</text><text y="128">ls</text><text y="144">operator=</text><text y="160">~TNamed</text>
</g>
</g>

<g id="TEveProjectable">
<rect class="bx" x="247.7" y="1575.7" width="221.6" height="208"/>
<text class="h" x="358.5" y="1595.5">TEveProjectable</text>
<g transform="translate(402.7,1609.75)">
<rect y="0" width="66.7" height="14.5" class="y"/><rect y="16" width="66.7" height="14.5" class="g"/><rect y="32" width="66.7" height="14.5" class="g"/><rect y="48" width="66.7" height="14.5" class="g"/><rect y="64" width="66.7" height="14.5" class="g"/><rect y="80" width="66.7" height="14.5" class="d"/><rect y="96" width="66.7" height="14.5" class="d"/><rect y="112" width="66.7" height="14.5" class="d"/><rect y="128" width="66.7" height="14.5" class="g"/>
</g>
<g transform="translate(436.05,1621.6)">
<text y="0">fProjectedList</text><text y="16">AddProjected</text><text y="32">AddProjectedsToSet</text><text y="48">AnnihilateProjecteds</text><text y="64">BeginProjecteds</text><text y="80">Class</text><text y="96">Class_Name</text><text y="112">Class_Version</text><text y="128">ClearProjectedList</text>
</g>
<g transform="translate(325.3,1609.75)">
<rect y="0" width="66.7" height="14.5" class="p"/><rect y="16" width="66.7" height="14.5" class="d"/><rect y="32" width="66.7" height="14.5" class="d"/><rect y="48" width="66.7" height="14.5" class="d"/><rect y="64" width="66.7" height="14.5" class="g"/><rect y="80" width="66.7" height="14.5" class="g"/><rect y="96" width="66.7" height="14.5" class="d"/><rect y="112" width="66.7" height="14.5" class="d"/><rect y="128" width="66.7" height="14.5" class="d"/><rect y="144" width="66.7" height="14.5" class="g"/><rect y="160" width="66.7" height="14.5" class="g"/>
</g>
<g transform="translate(358.65,1621.6)">
<text y="0">fgIsA</text><text y="16">DeclFileLine</text><text y="32">DeclFileName</text><text y="48">Dictionary</text><text y="64">EndProjecteds</text><text y="80">HasProjecteds</text><text y="96">ImplFileLine</text><text y="112">ImplFileName</text><text y="128">IsA</text><text y="144">ProjectedClass</text><text y="160">PropagateMainColor</text>
</g>
<g transform="translate(247.7,1609.75)">
<rect y="16" width="66.7" height="14.5" class="g"/><rect y="32" width="66.7" height="14.5" class="g"/><rect y="48" width="66.7" height="14.5" class="g"/><rect y="64" width="66.7" height="14.5" class="g"/><rect y="80" width="66.7" height="14.5" class="d"/><rect y="96" width="66.7" height="14.5" class="d"/><rect y="112" width="66.7" height="14.5" class="d"/><rect y="128" width="66.7" height="14.5" class="g"/><rect y="144" width="66.7" height="14.5" class="d"/><rect y="160" width="66.7" height="14.5" class="g"/>
</g>
<g transform="translate(281.05,1621.6)">
<text y="16">PropagateMainTransparency</text><text y="32">PropagateRenderState</text><text y="48">PropagateVizParams</text><text y="64">RemoveProjected</text><text y="80">ShowMembers</text><text y="96">Streamer</text><text y="112">StreamerNVirtual</text><text y="128">TEveProjectable</text><text y="144">operator=</text><text y="160">~TEveProjectable</text>
</g>
</g>

<g id="connectors" fill="none" stroke="#000" stroke-width="1.3">
<path d="M480.5,47.7H469.5" marker-end="url(#ah)"/>
<path d="M711.7,47.5H701.5" marker-end="url(#ah)"/>
<path d="M247.7,1311H237.5" marker-end="url(#ah)"/>
<path d="M479.5,50C474,58 474,90 474,150C472.5,600 471,1000 470.8,1230C470.6,1252 468.5,1266 463.5,1280" marker-end="url(#ah)"/>
<path d="M479.5,50C477,58 476.8,90 476.5,150C474,600 471,1000 470.8,1300L470.6,1460C470.3,1500 466,1535 453.3,1576.7" marker-end="url(#ah)"/>
</g>
</svg>
